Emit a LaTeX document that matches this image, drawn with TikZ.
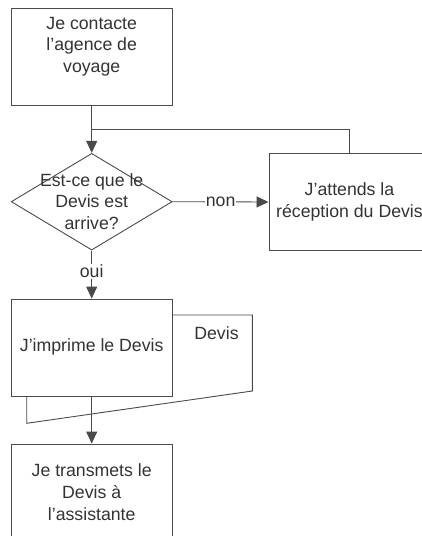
\documentclass[tikz,border=0pt]{standalone}
\usepackage{fontspec}
\setmainfont{Liberation Sans}
\usetikzlibrary{arrows.meta,shapes.geometric}
\definecolor{ln}{HTML}{4A4A4A}
\definecolor{tx}{HTML}{333333}
\tikzset{
  box/.style={draw=ln, line width=0.9pt, rectangle, minimum width=161pt, minimum height=97pt, inner sep=0pt, fill=white},
  decision/.style={draw=ln, line width=0.9pt, diamond, minimum width=161pt, minimum height=96.7pt, inner sep=0pt, aspect=1.66},
  txt/.style={text=tx, align=center, inner sep=0pt, font=\fontsize{17.7}{21.7}\selectfont},
  lbl/.style={text=tx, inner sep=1pt, fill=white, font=\fontsize{17.7}{21.7}\selectfont},
  conn/.style={draw=ln, line width=0.9pt},
  arr/.style={conn, -{Triangle[length=12pt,width=11pt]}},
}
\begin{document}
\begin{tikzpicture}[x=1pt,y=-1pt]
\useasboundingbox (0,0) rectangle (422,536);
\clip (0,0) rectangle (422,536);
% nodes
\node[box] (b1) at (91.7,57.2) {};
\node[txt] (t1) at (91.7,46.5) {Je contacte\\l’agence de\\voyage};
\node[decision] (q) at (91.7,201.7) {};
\node[txt] (tq) at (91.7,201.5) {Est-ce que le\\Devis est\\arrive?};
\node[box] (b2) at (349.5,202) {};
\node[txt] (t2) at (349.5,202) {J’attends la\\réception du Devis};
% document shape behind box 3
\draw[conn] (172.3,315) -- (252.3,315) -- (252.3,391) -- (26.7,423.3) -- (26.7,396);
\node[box] (b3) at (91.7,347.5) {};
\node[txt] (t3) at (91.7,347.3) {J’imprime le Devis};
\node[txt] (dv) at (216.5,333.3) {Devis};
\node[box] (b4) at (91.7,492.5) {};
\node[txt] (t4) at (91.7,492.2) {Je transmets le\\Devis à\\l’assistante};
% connectors
\coordinate (j) at (91.7,129.3);
\draw[arr] (b1.south) -- (q.north);
\draw[conn] (b2.north) |- (j);
\draw[arr] (q.east) -- node[lbl] {non} (b2.west);
\draw[arr] (q.south) -- node[lbl, pos=0.43] {oui} (b3.north);
\draw[arr] (b3.south) -- (b4.north);
\end{tikzpicture}
\end{document}
